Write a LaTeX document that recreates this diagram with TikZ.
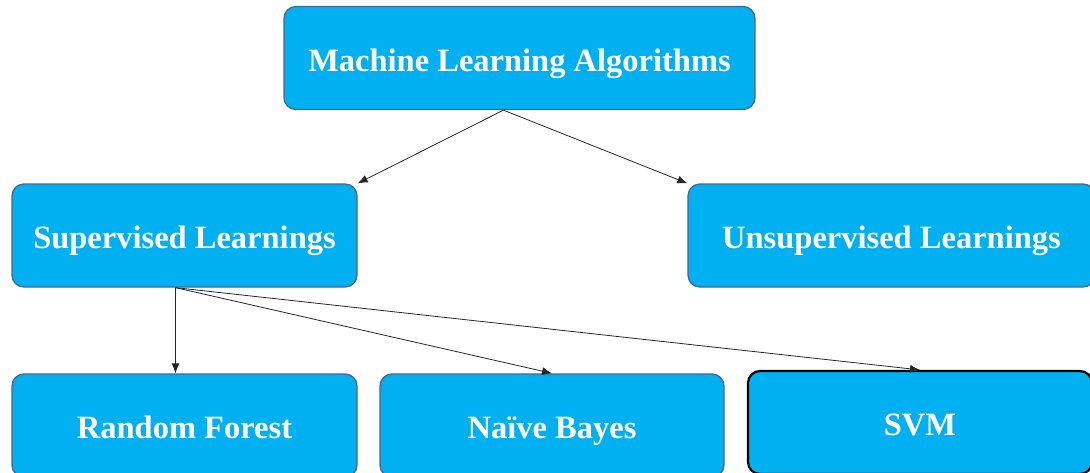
\documentclass[tikz,border=0pt]{standalone}
\usepackage{fontspec}
\setmainfont{Liberation Serif}
\usetikzlibrary{arrows.meta}
\definecolor{boxblue}{RGB}{0,176,240}
\definecolor{edgeblue}{RGB}{65,105,150}
\tikzset{
	algbox/.style={draw=edgeblue,line width=1.3pt,fill=boxblue,rounded corners=12pt,
		text=white,font=\fontsize{32.5}{39}\selectfont\bfseries,
		minimum height=103pt,inner sep=0pt,text height=29pt,text depth=3pt},
	link/.style={-{Latex[length=10pt,width=8pt]},line width=0.8pt,draw=black!85}
}
\begin{document}
\begin{tikzpicture}[x=1pt,y=-1pt]
	\useasboundingbox (0,0) rectangle (1090,472);
	\node[algbox,minimum width=471pt] (ml) at (519.5,58) {Machine Learning Algorithms};
	\node[algbox,minimum width=345pt] (sup) at (184.5,235.5) {Supervised Learnings};
	\node[algbox,minimum width=407pt] (unsup) at (891.5,235.5) {Unsupervised Learnings};
	\node[algbox,minimum width=345pt] (rf) at (184.5,425.5) {Random Forest};
	\node[algbox,minimum width=344pt] (nb) at (552,425.5) {Na\"{\i}ve Bayes};
	\node[algbox,minimum width=344pt,draw=black,line width=2.2pt] (svm) at (920,422.5) {SVM};
	\draw[link] ([xshift=-16pt]ml.south) -- (sup.north east);
	\draw[link] ([xshift=-16pt]ml.south) -- (unsup.north west);
	\draw[link] ([xshift=-9pt]sup.south) -- ([xshift=-9pt]rf.north);
	\foreach \t in {nb,svm}
		\draw[link] ([xshift=-9pt]sup.south) -- (\t.north);
\end{tikzpicture}
\end{document}
